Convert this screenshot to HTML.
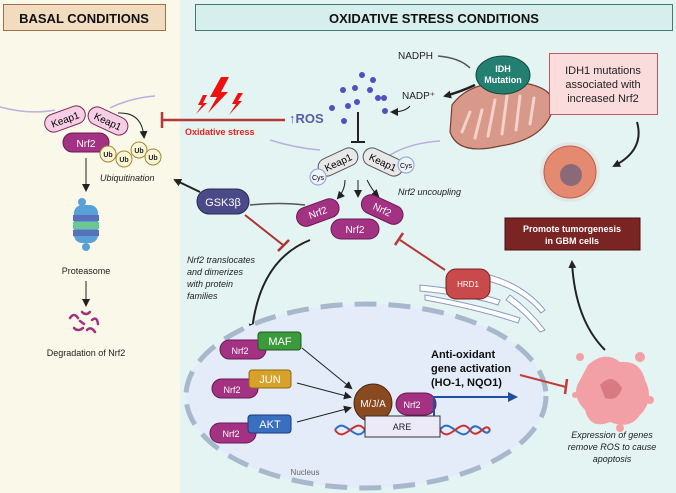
<!DOCTYPE html>
<html><head><meta charset="utf-8"><style>
html,body{margin:0;padding:0;background:#fff}
svg{display:block;font-family:"Liberation Sans",sans-serif}
</style></head><body>
<svg width="676" height="493" viewBox="0 0 676 493" xmlns="http://www.w3.org/2000/svg">
<defs>
<marker id="ah" markerWidth="8" markerHeight="8" refX="6" refY="4" orient="auto" markerUnits="userSpaceOnUse"><path d="M0,0 L8,4 L0,8 Z" fill="#222"/></marker>
<marker id="ahb" markerWidth="10" markerHeight="10" refX="8" refY="5" orient="auto" markerUnits="userSpaceOnUse"><path d="M0,0 L10,5 L0,10 Z" fill="#1f4fa0"/></marker>
</defs>
<rect x="0" y="0" width="180" height="493" fill="#faf8e8"/>
<rect x="180" y="0" width="496" height="493" fill="#e4f4f2"/>
<rect x="3.5" y="4.5" width="162" height="26" fill="#f1dcc0" stroke="#a0704a"/>
<text x="84" y="23" text-anchor="middle" font-size="13" font-weight="bold" fill="#111">BASAL CONDITIONS</text>
<rect x="195.5" y="4.5" width="477" height="26" fill="#d6efec" stroke="#3e7a70"/>
<text x="434" y="23" text-anchor="middle" font-size="13" font-weight="bold" fill="#111">OXIDATIVE STRESS CONDITIONS</text>

<!-- basal -->
<path d="M0,107 Q30,115 55,110 M110,108 Q130,98 155,96" stroke="#b8b0dd" stroke-width="1.5" fill="none"/>
<g transform="rotate(-20 65 119)"><rect x="44" y="110" width="42" height="18" rx="9" fill="#f6cfe6" stroke="#7a2a5a"/><text x="65" y="123" text-anchor="middle" font-size="10">Keap1</text></g>
<g transform="rotate(25 108 121)"><rect x="87" y="112" width="42" height="18" rx="9" fill="#f6cfe6" stroke="#7a2a5a"/><text x="108" y="125" text-anchor="middle" font-size="10">Keap1</text></g>
<rect x="63" y="133" width="46" height="19" rx="9.5" fill="#a33283" stroke="#6a1a55"/>
<text x="86" y="147" text-anchor="middle" font-size="10" fill="#fff">Nrf2</text>
<g fill="#fbf5d8" stroke="#a08a30">
<circle cx="108" cy="154" r="8"/><circle cx="124" cy="159" r="8"/><circle cx="139" cy="150" r="8"/><circle cx="153" cy="157" r="8"/>
</g>
<g font-size="7" font-weight="bold" text-anchor="middle" fill="#222"><text x="108" y="157">Ub</text><text x="124" y="162">Ub</text><text x="139" y="153">Ub</text><text x="153" y="160">Ub</text></g>
<path d="M118,113 Q142,112 144,137" stroke="#222" fill="none" marker-end="url(#ah)"/>
<text x="100" y="181" font-size="9" font-style="italic" fill="#222">Ubiquitination</text>
<line x1="86" y1="158" x2="86" y2="190" stroke="#222" marker-end="url(#ah)"/>
<g>
<rect x="74" y="205" width="24" height="38" rx="8" fill="#5aa0d8"/>
<rect x="73" y="215" width="26" height="6" fill="#5870b8"/>
<rect x="73" y="222" width="26" height="7" fill="#6cc890"/>
<rect x="73" y="230" width="26" height="6" fill="#5870b8"/>
<circle cx="82" cy="202" r="4" fill="#5aa0d8"/><circle cx="86" cy="247" r="4" fill="#5aa0d8"/>
</g>
<text x="86" y="274" text-anchor="middle" font-size="9" fill="#222">Proteasome</text>
<line x1="86" y1="281" x2="86" y2="305" stroke="#222" marker-end="url(#ah)"/>
<g stroke="#a03080" stroke-width="2.5" fill="none" stroke-linecap="round">
<path d="M70,318 q4,-6 8,0"/><path d="M82,312 q4,4 8,0"/><path d="M92,320 q5,-4 6,4"/><path d="M74,328 q4,4 9,0"/><path d="M87,330 q4,-4 8,2"/><path d="M80,321 l4,3"/>
</g>
<text x="86" y="356" text-anchor="middle" font-size="9" fill="#222">Degradation of Nrf2</text>

<!-- oxidative stress inhibition -->
<line x1="285" y1="120" x2="163" y2="120" stroke="#b33a3a" stroke-width="2.5"/>
<line x1="162" y1="112" x2="162" y2="128" stroke="#b33a3a" stroke-width="2.5"/>
<g fill="#f01010">
<path d="M221,77 L210,97 L217,97 L208,113 L228,92 L221,92 L229,77 Z"/>
<path d="M203,95 L198,105 L202,105 L196,114 L207,103 L203,103 L207,95 Z"/>
<path d="M238,93 L232,104 L236,104 L229,115 L242,101 L238,101 L243,93 Z"/>
</g>
<text x="185" y="135" font-size="9" font-weight="bold" fill="#e8201a">Oxidative stress</text>
<text x="289" y="123" font-size="13" font-weight="bold" fill="#5a5aa8">↑ROS</text>
<g fill="#5050c0">
<circle cx="332" cy="108" r="3"/><circle cx="343" cy="90" r="3"/><circle cx="355" cy="88" r="3"/><circle cx="357" cy="102" r="3"/><circle cx="370" cy="90" r="3"/><circle cx="373" cy="80" r="3"/><circle cx="378" cy="98" r="3"/><circle cx="385" cy="111" r="3"/><circle cx="384" cy="98" r="3"/><circle cx="362" cy="75" r="3"/><circle cx="344" cy="121" r="3"/><circle cx="348" cy="106" r="3"/>
</g>
<line x1="358" y1="112" x2="358" y2="142" stroke="#222" stroke-width="2"/>
<line x1="351" y1="142" x2="365" y2="142" stroke="#222" stroke-width="2"/>
<path d="M270,140 Q295,148 320,150 M390,155 Q410,143 440,141" stroke="#b8b0dd" stroke-width="1.5" fill="none"/>
<g transform="rotate(-25 338 162)"><rect x="317" y="153" width="42" height="18" rx="9" fill="#e8e8e8" stroke="#555"/><text x="338" y="166" text-anchor="middle" font-size="10">Keap1</text></g>
<g transform="rotate(25 383 162)"><rect x="362" y="153" width="42" height="18" rx="9" fill="#e8e8e8" stroke="#555"/><text x="383" y="166" text-anchor="middle" font-size="10">Keap1</text></g>
<circle cx="318" cy="177" r="8" fill="#eef2fb" stroke="#8aa0d8"/><text x="318" y="180" text-anchor="middle" font-size="7">Cys</text>
<circle cx="406" cy="165" r="8" fill="#eef2fb" stroke="#8aa0d8"/><text x="406" y="168" text-anchor="middle" font-size="7">Cys</text>
<path d="M345,180 Q345,190 338,198" stroke="#222" fill="none" marker-end="url(#ah)"/>
<line x1="358" y1="180" x2="358" y2="196" stroke="#222" marker-end="url(#ah)"/>
<path d="M367,180 Q372,190 378,196" stroke="#222" fill="none" marker-end="url(#ah)"/>
<text x="398" y="195" font-size="9" font-style="italic" fill="#222">Nrf2 uncoupling</text>
<g transform="rotate(-20 318 213)"><rect x="296" y="203" width="44" height="19" rx="9.5" fill="#a33283" stroke="#6a1a55"/><text x="318" y="216" text-anchor="middle" font-size="10" fill="#fff">Nrf2</text></g>
<g transform="rotate(25 382 210)"><rect x="360" y="200" width="44" height="19" rx="9.5" fill="#a33283" stroke="#6a1a55"/><text x="382" y="213" text-anchor="middle" font-size="10" fill="#fff">Nrf2</text></g>
<rect x="331" y="219" width="48" height="20" rx="10" fill="#a33283" stroke="#6a1a55"/>
<text x="355" y="233" text-anchor="middle" font-size="10" fill="#fff">Nrf2</text>

<!-- GSK3b -->
<path d="M250,205 Q280,202 305,205" stroke="#555" stroke-width="1.5" fill="none"/>
<line x1="200" y1="192" x2="175" y2="180" stroke="#222" stroke-width="2" marker-end="url(#ah)"/>
<rect x="197" y="189" width="52" height="25" rx="12.5" fill="#4b4a88" stroke="#2a2a55"/>
<text x="223" y="206" text-anchor="middle" font-size="11" fill="#fff">GSK3β</text>
<line x1="245" y1="215" x2="283" y2="245" stroke="#a33" stroke-width="2"/>
<line x1="278" y1="251" x2="289" y2="240" stroke="#a33" stroke-width="2.5"/>
<text font-size="9" font-style="italic" fill="#222"><tspan x="187" y="263">Nrf2 translocates</tspan><tspan x="187" y="275">and dimerizes</tspan><tspan x="187" y="287">with protein</tspan><tspan x="187" y="299">families</tspan></text>
<path d="M310,240 Q260,260 252,330" stroke="#222" stroke-width="2" fill="none" marker-end="url(#ah)"/>

<!-- IDH -->
<text x="398" y="59" font-size="10" fill="#222">NADPH</text>
<path d="M438,56 Q460,58 470,68" stroke="#555" stroke-width="1.5" fill="none"/>
<path d="M475,85 Q460,92 445,96" stroke="#222" stroke-width="2.5" fill="none" marker-end="url(#ah)"/>
<text x="402" y="99" font-size="10" fill="#222">NADP⁺</text>
<path d="M410,106 Q405,112 392,112" stroke="#222" fill="none" marker-end="url(#ah)"/>
<path d="M452,105 Q470,80 515,82 Q560,86 552,112 Q542,140 500,146 Q458,156 450,132 Z" fill="#d9998a" stroke="#7a4035" stroke-width="1.2"/>
<g stroke="#f3d2c8" stroke-width="3" fill="none" stroke-linecap="round">
<path d="M462,132 L470,112"/><path d="M475,138 L482,110"/><path d="M488,136 L495,100"/><path d="M502,134 L507,96"/><path d="M516,130 L520,96"/><path d="M530,124 L534,98"/>
</g>
<ellipse cx="503" cy="75" rx="27" ry="19" fill="#237f70" stroke="#114a40"/>
<text x="503" y="72" text-anchor="middle" font-size="9" font-weight="bold" fill="#fff">IDH</text>
<text x="503" y="83" text-anchor="middle" font-size="9" font-weight="bold" fill="#fff">Mutation</text>
<rect x="549.5" y="53.5" width="108" height="61" fill="#fbdcdc" stroke="#c0565d"/>
<text text-anchor="middle" font-size="11" fill="#222"><tspan x="603" y="74">IDH1 mutations</tspan><tspan x="603" y="88">associated with</tspan><tspan x="603" y="102">increased Nrf2</tspan></text>
<path d="M637,122 Q645,150 614,166" stroke="#222" stroke-width="2" fill="none" marker-end="url(#ah)"/>
<circle cx="570" cy="172" r="30" fill="#ddd" opacity="0.6"/>
<circle cx="570" cy="172" r="26" fill="#e48a70" stroke="#c05a45"/>
<circle cx="571" cy="175" r="11" fill="#8a6a78"/>
<rect x="505" y="218" width="135" height="32" fill="#7a2424" stroke="#4a1010"/>
<text text-anchor="middle" font-size="9" font-weight="bold" fill="#fff"><tspan x="572" y="232">Promote tumorgenesis</tspan><tspan x="572" y="244">in GBM cells</tspan></text>
<path d="M605,350 Q575,320 572,262" stroke="#222" stroke-width="2" fill="none" marker-end="url(#ah)"/>

<!-- nucleus -->
<ellipse cx="366" cy="396" rx="180" ry="92" fill="#e3ecf8" stroke="#a8b8cc" stroke-width="5" stroke-dasharray="22 12"/>
<text x="305" y="475" text-anchor="middle" font-size="8" fill="#666">Nucleus</text>

<!-- ER + HRD1 -->
<g stroke="#8a9ac0" fill="#fff" stroke-width="1">
<path d="M420,285 Q470,290 500,300 L498,305 Q470,296 420,291 Z"/>
<path d="M425,295 Q480,305 520,318 L518,323 Q480,310 425,300 Z"/>
<path d="M490,275 Q525,285 545,310 L541,313 Q522,290 488,281 Z"/>
<path d="M510,295 Q530,310 545,330 L540,332 Q525,313 506,300 Z"/>
</g>
<line x1="445" y1="270" x2="400" y2="240" stroke="#b33a3a" stroke-width="2"/>
<line x1="395" y1="245" x2="403" y2="233" stroke="#b33a3a" stroke-width="2.5"/>
<rect x="446" y="269" width="44" height="30" rx="10" fill="#c94a4a" stroke="#7a2020"/>
<text x="468" y="287" text-anchor="middle" font-size="8" fill="#fff">HRD1</text>

<!-- complexes -->
<rect x="220" y="340" width="46" height="19" rx="9.5" fill="#a33283" stroke="#6a1a55"/>
<text x="240" y="354" text-anchor="middle" font-size="9" fill="#fff">Nrf2</text>
<rect x="258" y="332" width="43" height="18" rx="3" fill="#3b9a3b" stroke="#1f5a1f"/>
<text x="280" y="345" text-anchor="middle" font-size="11" fill="#fff">MAF</text>
<rect x="212" y="379" width="46" height="19" rx="9.5" fill="#a33283" stroke="#6a1a55"/>
<text x="232" y="393" text-anchor="middle" font-size="9" fill="#fff">Nrf2</text>
<rect x="249" y="370" width="42" height="18" rx="3" fill="#d8a22a" stroke="#8a6a10"/>
<text x="270" y="383" text-anchor="middle" font-size="11" fill="#fff">JUN</text>
<rect x="210" y="423" width="46" height="20" rx="10" fill="#a33283" stroke="#6a1a55"/>
<text x="231" y="437" text-anchor="middle" font-size="9" fill="#fff">Nrf2</text>
<rect x="248" y="415" width="43" height="18" rx="3" fill="#3a6fc0" stroke="#1a3a80"/>
<text x="270" y="428" text-anchor="middle" font-size="11" fill="#fff">AKT</text>
<line x1="302" y1="348" x2="351" y2="388" stroke="#222" marker-end="url(#ah)"/>
<line x1="297" y1="383" x2="350" y2="397" stroke="#222" marker-end="url(#ah)"/>
<line x1="297" y1="422" x2="350" y2="408" stroke="#222" marker-end="url(#ah)"/>
<path d="M335,430 C345,415 355,445 365,430 M440,430 C450,415 460,445 470,430 C478,418 485,440 490,430" stroke="#2c6ec0" stroke-width="2" fill="none"/>
<path d="M335,430 C345,445 355,415 365,430 M440,430 C450,445 460,415 470,430 C478,442 485,420 490,430" stroke="#d03030" stroke-width="2" fill="none"/>
<rect x="396" y="393" width="40" height="22" rx="11" fill="#a33283" stroke="#6a1a55"/>
<text x="412" y="408" text-anchor="middle" font-size="9" fill="#fff">Nrf2</text>
<circle cx="373" cy="403" r="19" fill="#8a4a20" stroke="#4a2410"/>
<text x="373" y="407" text-anchor="middle" font-size="10" fill="#fff">M/J/A</text>
<rect x="365" y="416" width="75" height="21" fill="#ece9f8" stroke="#333"/>
<text x="402" y="430" text-anchor="middle" font-size="9" fill="#222">ARE</text>
<path d="M434,416 L434,397 L516,397" stroke="#1f4fa0" stroke-width="2" fill="none" marker-end="url(#ahb)"/>
<text font-size="11" font-weight="bold" fill="#111"><tspan x="431" y="358">Anti-oxidant</tspan><tspan x="431" y="372">gene activation</tspan><tspan x="431" y="386">(HO-1, NQO1)</tspan></text>
<line x1="520" y1="375" x2="566" y2="387" stroke="#c03a3a" stroke-width="2"/>
<line x1="567" y1="379" x2="565" y2="394" stroke="#c03a3a" stroke-width="2.5"/>

<!-- apoptotic cell -->
<g fill="#f2a0a6">
<path d="M588,365 Q605,350 620,362 Q640,360 645,380 Q655,400 640,415 Q630,430 610,422 Q590,430 585,410 Q570,395 580,380 Z"/>
<circle cx="580" cy="357" r="4"/><circle cx="640" cy="357" r="5"/><circle cx="650" cy="400" r="4"/><circle cx="575" cy="395" r="3"/><circle cx="620" cy="428" r="4"/>
</g>
<path d="M600,385 Q612,372 622,388 Q618,402 605,398 Z" fill="#d87a82"/>
<text text-anchor="middle" font-size="9" font-style="italic" fill="#222"><tspan x="612" y="438">Expression of genes</tspan><tspan x="612" y="450">remove ROS to cause</tspan><tspan x="612" y="462">apoptosis</tspan></text>
</svg>
</body></html>
